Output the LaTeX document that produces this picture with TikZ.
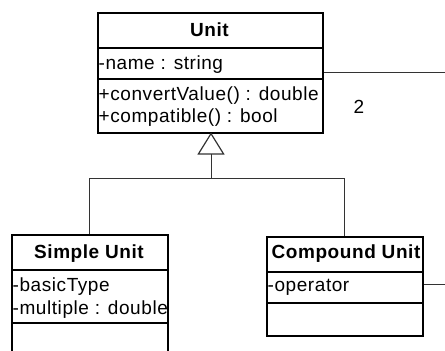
\documentclass[tikz,border=0pt]{standalone}
\usepackage{fontspec}
\setmainfont{Liberation Sans}[LetterSpace=3]
\usetikzlibrary{arrows.meta}
\begin{document}
\begin{tikzpicture}[x=1pt,y=-1pt,
  classbox/.style={draw=black,line width=1.8pt,fill=white,inner sep=0pt,anchor=north west},
  divider/.style={draw=black,line width=1.6pt},
  ctitle/.style={font=\fontsize{19}{21}\selectfont\bfseries,inner sep=0pt,anchor=base},
  attr/.style={font=\fontsize{19}{21}\selectfont,inner sep=0pt,anchor=base west},
  conn/.style={draw=black!80,line width=1pt},
  gen/.style={conn,-{Triangle[open,width=27pt,length=22pt,line width=1.2pt]}}
]
\useasboundingbox (0,0) rectangle (445,351);
% Unit
\node[classbox,minimum width=225pt,minimum height=120pt] (unit) at (97,12) {};
\draw[divider] (97,48) -- (322,48);
\draw[divider] (97,79) -- (322,79);
\node[ctitle] (unitt) at (209.5,36.7) {Unit};
\node[attr] (unita1) at (98.5,69) {-name : string};
\node[attr] (unitm1) at (98.5,100.7) {+convertValue() : double};
\node[attr] (unitm2) at (98.5,122.7) {+compatible() : bool};
% Simple Unit
\node[classbox,minimum width=156pt,minimum height=140pt] (simple) at (11,234) {};
\draw[divider] (11,270) -- (167,270);
\draw[divider] (11,323) -- (167,323);
\node[ctitle] (simplet) at (89,258) {Simple Unit};
\node[attr] (simplea1) at (12.5,291) {-basicType};
\node[attr] (simplea2) at (12.5,314) {-multiple : double};
% Compound Unit
\node[classbox,minimum width=156pt,minimum height=99pt] (compound) at (266,236) {};
\draw[divider] (266,272) -- (422,272);
\draw[divider] (266,303) -- (422,303);
\node[ctitle] (compoundt) at (346,258) {Compound Unit};
\node[attr] (compounda1) at (267.5,291) {-operator};
% connectors
\coordinate (j) at (211,178);
\coordinate (apex) at (211,132.5);
\draw[conn] (simple.north) |- (j);
\draw[conn] (compound.north) |- (j);
\draw[gen] (j) -- (apex);
\coordinate (assoc1) at (445,72);
\draw[conn] (unit.east |- assoc1) -- (assoc1);
\node[attr,anchor=base] (mult) at (359,113) {2};
\coordinate (assoc2) at (445,284);
\draw[conn] (compound.east |- assoc2) -- (assoc2);
\end{tikzpicture}
\end{document}
